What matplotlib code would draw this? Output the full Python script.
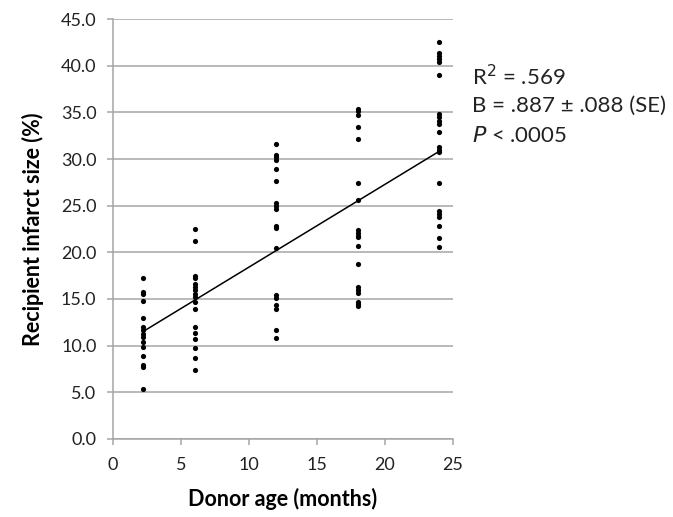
import numpy as np
from matplotlib import pyplot as plt

plt.rcParams['font.family'] = ['Lato', 'DejaVu Sans']

# donor age groups (months) and recipient infarct sizes (%)
age_2 = [17.3, 15.7, 15.5, 14.8, 13.0, 12.0, 11.7, 11.3, 10.9, 10.4, 9.9, 8.9, 7.9, 7.7, 5.4]
age_6 = [22.5, 21.2, 17.5, 17.2, 16.6, 16.3, 16.0, 15.5, 15.2, 14.7, 13.9, 12.0, 11.4, 10.7, 9.8, 8.7, 7.4]
age_12 = [31.6, 30.4, 30.2, 29.9, 28.9, 27.7, 25.3, 25.0, 24.7, 22.8, 22.6, 20.5,
          15.4, 15.1, 14.4, 13.9, 11.7, 10.8]
age_18 = [35.4, 35.1, 34.7, 33.4, 32.2, 27.4, 25.6, 22.4, 22.1, 21.8, 21.6, 20.7, 18.8,
          16.3, 16.0, 15.6, 14.7, 14.5, 14.3]
age_24 = [42.5, 41.4, 41.1, 40.7, 40.4, 39.0, 34.8, 34.5, 34.1, 33.8, 32.9, 31.3, 31.0,
          30.8, 27.4, 24.4, 24.1, 23.8, 22.8, 21.5, 20.6]
ages = [2.2, 6, 12, 18, 24]
groups = [age_2, age_6, age_12, age_18, age_24]

# regression line
intercept = 9.55
slope = 0.887
fit_x = [2.2, 24]

fig = plt.figure(figsize=(6.73, 5.17), dpi=100)
ax = fig.add_axes([0.168, 0.151, 0.505, 0.812])

for a, vals in zip(ages, groups):
    ax.scatter([a] * len(vals), vals, s=14, color='black', zorder=3, linewidths=0)

fx = np.array(fit_x)
ax.plot(fx, intercept + slope * fx, color='black', lw=1.1, zorder=3)

ax.set_xlim(0, 25)
ax.set_ylim(0, 45)
ax.set_xticks(np.arange(0, 26, 5))
ax.set_yticks(np.arange(0, 46, 5))
ax.set_yticklabels(['%.1f' % v for v in np.arange(0, 46, 5)])
ax.grid(True, axis='y', color='#a6a6a6', lw=1.1)
ax.set_axisbelow(True)
for s in ['top', 'right']:
    ax.spines[s].set_visible(False)
for s in ['left', 'bottom']:
    ax.spines[s].set_color('#a6a6a6')
    ax.spines[s].set_linewidth(1.1)
ax.tick_params(axis='x', colors='#a6a6a6', labelcolor='#222222', length=4, width=1.1,
               labelsize=13, pad=9)
ax.tick_params(axis='y', colors='#a6a6a6', labelcolor='#222222', length=4, width=1.1,
               labelsize=13, pad=8)

ax.set_xlabel('Donor age (months)', fontsize=15.5, fontweight='bold', labelpad=11)
ax.set_ylabel('Recipient infarct size (%)', fontsize=15.5, fontweight='bold', labelpad=12)

fig.text(0.702, 0.851, 'R$^2$ = .569', fontsize=16, va='center', color='#222222')
fig.text(0.702, 0.795, 'B = .887 ± .088 (SE)', fontsize=16, va='center', color='#222222')
fig.text(0.702, 0.737, '$\\it{P}$ < .0005', fontsize=16, va='center', color='#222222')

plt.savefig('out.png', dpi=100)
